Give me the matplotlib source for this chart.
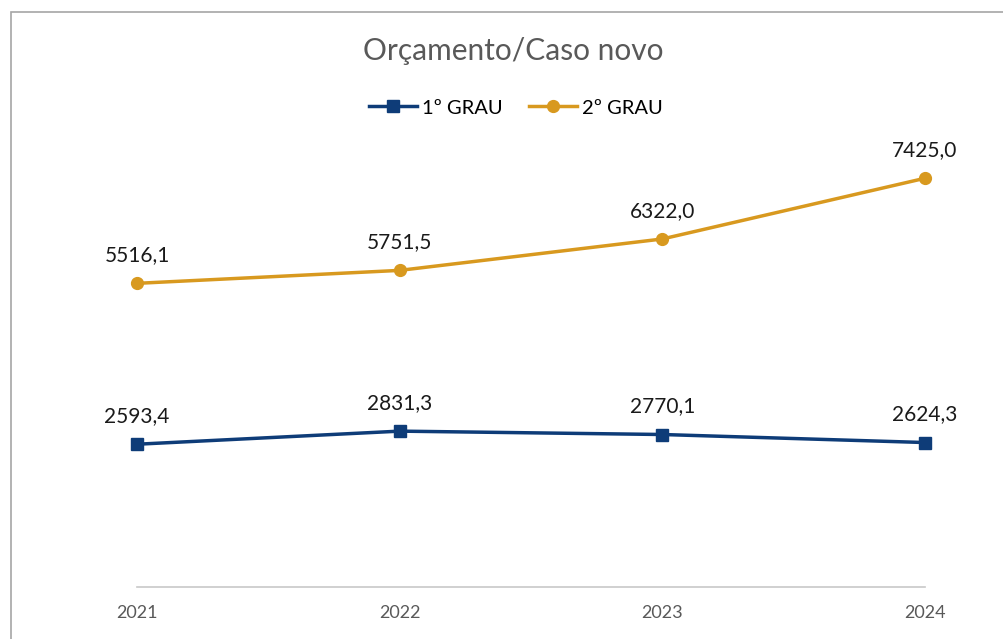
import matplotlib
matplotlib.use("Agg")
import matplotlib.pyplot as plt
from matplotlib.patches import Rectangle

# Data
years = ["2021", "2022", "2023", "2024"]
grau1 = [2593.4, 2831.3, 2770.1, 2624.3]
grau2 = [5516.1, 5751.5, 6322.0, 7425.0]

plt.rcParams['font.family'] = ['Lato', 'DejaVu Sans']

W, H = 1004, 639
fig = plt.figure(figsize=(W / 100, H / 100), dpi=100)

# plot area placed in pixel terms
x0, x1 = 137, 925
y_zero, y_top = 587, 146.6
ax = fig.add_axes([x0 / W, (H - y_zero) / H, (x1 - x0) / W, (y_zero - y_top) / H])

xs = list(range(len(years)))
navy = '#0E3C78'
gold = '#D8991F'

ax.plot(xs, grau1, color=navy, lw=2.5, marker='s', ms=9, label='1º GRAU',
        zorder=3, clip_on=False)
ax.plot(xs, grau2, color=gold, lw=2.5, marker='o', ms=8.5, label='2º GRAU',
        zorder=3, clip_on=False)

# data labels
def fmt(v):
    return f"{v:.1f}".replace('.', ',')

for x, v in zip(xs, grau1):
    ax.annotate(fmt(v), (x, v), xytext=(0, 13), textcoords='offset points',
                ha='center', va='bottom', fontsize=15, color='#1a1a1a')
for x, v in zip(xs, grau2):
    ax.annotate(fmt(v), (x, v), xytext=(0, 13), textcoords='offset points',
                ha='center', va='bottom', fontsize=15, color='#1a1a1a')

ax.set_xlim(0, len(years) - 1)
ax.set_ylim(0, 8000)
ax.set_xticks(xs)
ax.set_xticklabels(years, fontsize=13, color='#595959')
ax.tick_params(axis='x', length=0, pad=13)
ax.set_yticks([])
for side in ['left', 'right', 'top']:
    ax.spines[side].set_visible(False)
ax.spines['bottom'].set_color('#C8C8C8')
ax.spines['bottom'].set_linewidth(1.2)
ax.set_facecolor('none')

# title and legend
fig.text(513 / W, 1 - 51 / H, 'Orçamento/Caso novo', ha='center', va='center',
         fontsize=21.5, color='#595959')
fig.legend(loc='center', bbox_to_anchor=(516 / W, 1 - 108 / H), ncol=2,
           frameon=False, fontsize=14.5, handlelength=2.4, columnspacing=1.3,
           handletextpad=0.25)

# chart border (Excel style)
fig.patches.append(Rectangle((11 / W, -0.1), 1.2, 1 - 12 / H + 0.1,
                             transform=fig.transFigure, fill=False,
                             edgecolor='#A6A6A6', lw=1.2))

fig.savefig('out.png', dpi=100)
